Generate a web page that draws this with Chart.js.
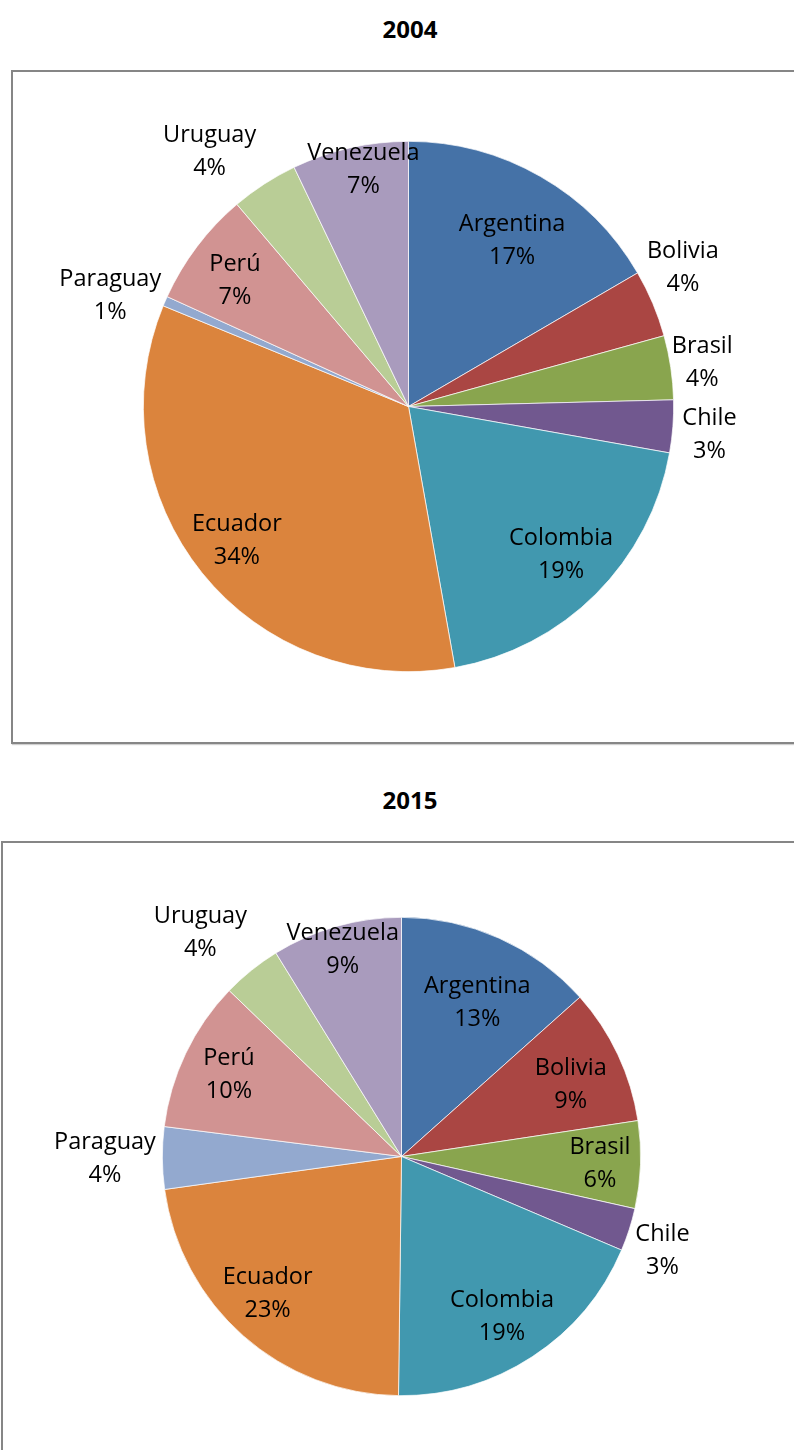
<!DOCTYPE html>
<html>
<head>
<meta charset="utf-8">
<script src="https://cdn.jsdelivr.net/npm/chart.js@4.4.0/dist/chart.umd.min.js"></script>
<style>
  body { margin: 0; width: 794px; height: 1450px; overflow: hidden; background: #fff; position: relative; font-family: "Open Sans", sans-serif; }
  .title { position: absolute; left: 0; width: 820px; text-align: center; font-weight: bold; font-size: 24px; color: #000; }
  .box { position: absolute; width: 800px; border: 2px solid #868686; box-shadow: 1px 1px 1px #d0d0d0; background: #fff; }
  .box canvas { display: block; }
</style>
</head>
<body>
<div class="title" style="top:12px;">2004</div>
<div class="box" style="left:11px; top:70px; height:670px;">
  <canvas id="chart2004" width="800" height="670"></canvas>
</div>
<div class="title" style="top:783px;">2015</div>
<div class="box" style="left:1px; top:841px; height:620px;">
  <canvas id="chart2015" width="800" height="610"></canvas>
</div>
<script>
const countries = ['Argentina', 'Bolivia', 'Brasil', 'Chile', 'Colombia', 'Ecuador', 'Paraguay', 'Perú', 'Uruguay', 'Venezuela'];
const share2004 = [16.6, 4.1, 3.9, 3.2, 19.4, 34.0, 0.6, 7.0, 4.1, 7.1];
const share2015 = [13.4, 9.2, 5.9, 2.9, 18.8, 22.6, 4.2, 10.2, 4.0, 8.8];

const sliceColors = ['#4572A7', '#AA4643', '#89A54E', '#71588F', '#4198AF', '#DB843D', '#93A9CF', '#D19392', '#B9CD96', '#A99BBD'];

// label placement: fraction of radius + small angle tweak (degrees)
const labelPos2004 = { r: [0.74, 1.16, 1.12, 1.14, 0.80, 0.82, 1.20, 0.81, 1.22, 0.91], a: [2, -4, 0, 1, -1, 1, -3, -1, -5, 2] };
const labelPos2015 = { r: [0.72, 0.77, 0.83, 1.16, 0.79, 0.80, 1.24, 0.80, 1.26, 0.90], a: [2, 2, 0, 2, 1, 3, 0, 0, -3, 0] };

const pieLabels = {
  id: 'pieLabels',
  afterDatasetsDraw(chart, args, opts) {
    const ctx = chart.ctx;
    const data = chart.data.datasets[0].data;
    const total = data.reduce((a, b) => a + b, 0);
    ctx.save();
    ctx.font = '23.5px "Open Sans"';
    ctx.fillStyle = '#000';
    ctx.textAlign = 'center';
    ctx.textBaseline = 'middle';
    chart.getDatasetMeta(0).data.forEach((arc, i) => {
      const p = arc.getProps(['x', 'y', 'startAngle', 'endAngle', 'outerRadius'], true);
      const mid = (p.startAngle + p.endAngle) / 2 + opts.pos.a[i] * Math.PI / 180;
      const r = p.outerRadius * opts.pos.r[i];
      const x = p.x + Math.cos(mid) * r;
      const y = p.y + Math.sin(mid) * r;
      const pct = Math.round(data[i] / total * 100) + '%';
      ctx.fillText(chart.data.labels[i], x, y - 16);
      ctx.fillText(pct, x, y + 17);
    });
    ctx.restore();
  }
};

function makePie(id, values, pos, pad) {
  return new Chart(document.getElementById(id), {
    type: 'pie',
    data: {
      labels: countries,
      datasets: [{
        data: values,
        backgroundColor: sliceColors,
        borderColor: '#fff',
        borderWidth: 0.7
      }]
    },
    options: {
      responsive: false,
      animation: false,
      layout: { padding: pad },
      plugins: {
        legend: { display: false },
        tooltip: { enabled: false },
        pieLabels: { pos: pos }
      }
    },
    plugins: [pieLabels]
  });
}

makePie('chart2004', share2004, labelPos2004, { top: 69, bottom: 70, left: 130, right: 139 });
makePie('chart2015', share2015, labelPos2015, { top: 74, bottom: 57, left: 159, right: 162 });
</script>
</body>
</html>
